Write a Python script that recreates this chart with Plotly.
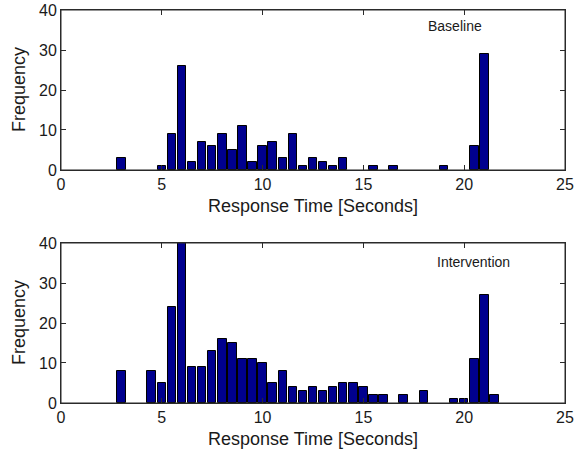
import plotly.graph_objects as go
from plotly.subplots import make_subplots

# Bin centers (seconds) and counts
baseline_bins = [3.0, 5.0, 5.5, 6.0, 6.5, 7.0, 7.5, 8.0, 8.5, 9.0, 9.5, 10.0, 10.5,
                 11.0, 11.5, 12.0, 12.5, 13.0, 13.5, 14.0, 15.5, 16.5, 19.0, 20.5, 21.0]
baseline_counts = [3, 1, 9, 26, 2, 7, 6, 9, 5, 11, 2, 6, 7,
                   3, 9, 1, 3, 2, 1, 3, 1, 1, 1, 6, 29]

intervention_bins = [3.0, 4.5, 5.0, 5.5, 6.0, 6.5, 7.0, 7.5, 8.0, 8.5, 9.0, 9.5, 10.0,
                     10.5, 11.0, 11.5, 12.0, 12.5, 13.0, 13.5, 14.0, 14.5, 15.0, 15.5,
                     16.0, 17.0, 18.0, 19.5, 20.0, 20.5, 21.0, 21.5]
intervention_counts = [8, 8, 5, 24, 40, 9, 9, 13, 16, 15, 11, 11, 10,
                       5, 8, 4, 3, 4, 3, 4, 5, 5, 4, 2,
                       2, 2, 3, 1, 1, 11, 27, 2]

x_ticks = [0, 5, 10, 15, 20, 25]
y_ticks = [0, 10, 20, 30, 40]
panel_labels = ["Baseline", "Intervention"]
x_title = "Response Time [Seconds]"
y_title = "Frequency"

FONT = "Liberation Sans, Arial, sans-serif"
TXT = "#1a1a1a"
AX = "#2a2a2a"

fig = make_subplots(rows=2, cols=1)

for i, (bins, counts) in enumerate([(baseline_bins, baseline_counts),
                                    (intervention_bins, intervention_counts)]):
    fig.add_trace(go.Bar(x=bins, y=counts, width=0.42,
                         marker=dict(color="rgb(0,0,143)", line=dict(color="black", width=1)),
                         showlegend=False), row=i + 1, col=1)

common_x = dict(range=[0, 25], tickvals=x_ticks, ticks="inside", ticklen=5,
                tickcolor=AX, showline=True, linecolor=AX, linewidth=1, mirror="allticks",
                showgrid=False, zeroline=False, automargin=False,
                tickfont=dict(family=FONT, size=16, color=TXT))
common_y = dict(range=[0, 40], tickvals=y_ticks, ticks="inside", ticklen=5,
                tickcolor=AX, showline=True, linecolor=AX, linewidth=1, mirror="allticks",
                showgrid=False, zeroline=False, automargin=False,
                tickfont=dict(family=FONT, size=16, color=TXT))

fig.update_layout(
    width=576, height=450,
    margin=dict(l=61, r=11, t=10, b=47, autoexpand=False),
    paper_bgcolor="white", plot_bgcolor="white",
    bargap=0,
    xaxis=dict(domain=[0, 1], **common_x),
    xaxis2=dict(domain=[0, 1], **common_x),
    yaxis=dict(domain=[0.5929, 1.0], **common_y),
    yaxis2=dict(domain=[0.0, 0.4071], **common_y),
)

for i, (xr, yr) in enumerate([("x", "y"), ("x2", "y2")]):
    # frame box
    fig.add_shape(type="rect", xref=f"{xr} domain", yref=f"{yr} domain",
                  x0=0, x1=1, y0=0, y1=1, line=dict(color=AX, width=1))
    # axis titles
    fig.add_annotation(x=0.5, y=0, xref=f"{xr} domain", yref=f"{yr} domain",
                       text=x_title, showarrow=False, xanchor="center", yanchor="middle",
                       yshift=-36, font=dict(family=FONT, size=18, color=TXT))
    fig.add_annotation(x=0, y=0.5, xref=f"{xr} domain", yref=f"{yr} domain",
                       text=y_title, showarrow=False, xanchor="center", yanchor="middle",
                       textangle=-90, xshift=-42, font=dict(family=FONT, size=18, color=TXT))

fig.add_annotation(x=18.1, y=36, xref="x", yref="y", text=panel_labels[0],
                   showarrow=False, xanchor="left", yanchor="middle",
                   font=dict(family=FONT, size=14, color=TXT))
fig.add_annotation(x=18.55, y=35.3, xref="x2", yref="y2", text=panel_labels[1],
                   showarrow=False, xanchor="left", yanchor="middle",
                   font=dict(family=FONT, size=14, color=TXT))

fig.write_html("out.html", config={"displayModeBar": False},
               post_script="document.body.style.margin='0';")
